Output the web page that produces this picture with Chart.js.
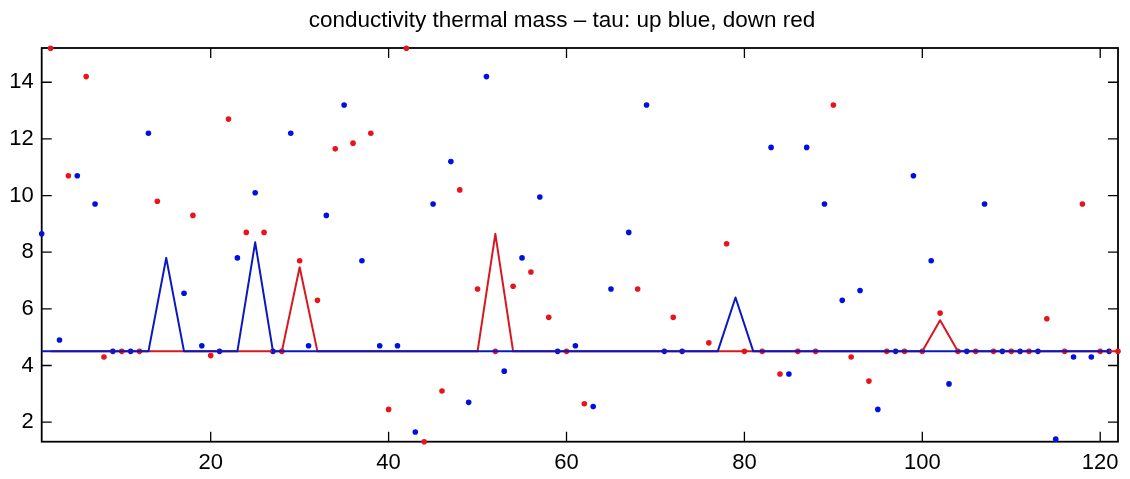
<!DOCTYPE html>
<html>
<head>
<meta charset="utf-8">
<script src="https://cdn.jsdelivr.net/npm/chart.js@4.4.1/dist/chart.umd.min.js"></script>
<style>
  html, body { margin: 0; padding: 0; background: #fff; }
  #wrap { width: 1130px; height: 479px; }
</style>
</head>
<body>
<div id="wrap"><canvas id="tauChart"></canvas></div>
<script>
// cast numbers: up casts are odd, down casts are even
const upCast = [1, 3, 5, 7, 9, 11, 13, 15, 17, 19, 21, 23, 25, 27, 29, 31, 33, 35, 37, 39,
    41, 43, 45, 47, 49, 51, 53, 55, 57, 59, 61, 63, 65, 67, 69, 71, 73, 75, 77, 79,
    81, 83, 85, 87, 89, 91, 93, 95, 97, 99, 101, 103, 105, 107, 109, 111, 113, 115, 117, 119, 121];
const downCast = [2, 4, 6, 8, 10, 12, 14, 16, 18, 20, 22, 24, 26, 28, 30, 32, 34, 36, 38, 40,
    42, 44, 46, 48, 50, 52, 54, 56, 58, 60, 62, 64, 66, 68, 70, 72, 74, 76, 78, 80,
    82, 84, 86, 88, 90, 92, 94, 96, 98, 100, 102, 104, 106, 108, 110, 112, 114, 116, 118, 120, 122];

// tau per cast (null = no estimate)
const tauUp = [8.65, 4.9, 10.7, 9.7, 4.5, 4.5, 12.2, null, 6.55, 4.7,
    4.5, 7.8, 10.1, 4.5, 12.2, 4.7, 9.3, 13.2, 7.7, 4.7,
    4.7, 1.65, 9.7, 11.2, 2.7, 14.2, 3.8, 7.8, 9.95, 4.5,
    4.7, 2.55, 6.7, 8.7, 13.2, 4.5, 4.5, null, null, null,
    null, 11.7, 3.7, 11.7, 9.7, 6.3, 6.65, 2.45, 4.5, 10.7,
    7.7, 3.35, 4.5, 9.7, 4.5, 4.5, 4.5, 1.4, 4.3, 4.3, 4.5];
const tauDown = [15.2, 10.7, 14.2, 4.3, 4.5, 4.5, 9.8, null, 9.3, 4.35,
    12.7, 8.7, 8.7, 4.5, 7.7, 6.3, 11.65, 11.85, 12.2, 2.45,
    15.2, 1.31, 3.1, 10.2, 6.7, 4.5, 6.8, 7.3, 5.7, 4.5,
    2.65, null, null, 6.7, null, 5.7, null, 4.8, 8.3, 4.5,
    4.5, 3.7, 4.5, 4.5, 13.2, 4.3, 3.45, 4.5, 4.5, 4.5,
    5.85, 4.5, 4.5, 4.5, 4.5, 4.5, 5.65, 4.5, 9.7, 4.5, 4.5];

// chosen tau (lines)
const tauUpLine = [4.5, 4.5, 4.5, 4.5, 4.5, 4.5, 4.5, 7.8, 4.5, 4.5,
    4.5, 4.5, 8.35, 4.5, 4.5, 4.5, 4.5, 4.5, 4.5, 4.5,
    4.5, 4.5, 4.5, 4.5, 4.5, 4.5, 4.5, 4.5, 4.5, 4.5,
    4.5, 4.5, 4.5, 4.5, 4.5, 4.5, 4.5, 4.5, 4.5, 6.4,
    4.5, 4.5, 4.5, 4.5, 4.5, 4.5, 4.5, 4.5, 4.5, 4.5,
    4.5, 4.5, 4.5, 4.5, 4.5, 4.5, 4.5, 4.5, 4.5, 4.5, 4.5];
const tauDownLine = [4.5, 4.5, 4.5, 4.5, 4.5, 4.5, 4.5, 4.5, 4.5, 4.5,
    4.5, 4.5, 4.5, 4.5, 7.47, 4.5, 4.5, 4.5, 4.5, 4.5,
    4.5, 4.5, 4.5, 4.5, 4.5, 8.65, 4.5, 4.5, 4.5, 4.5,
    4.5, 4.5, 4.5, 4.5, 4.5, 4.5, 4.5, 4.5, 4.5, 4.5,
    4.5, 4.5, 4.5, 4.5, 4.5, 4.5, 4.5, 4.5, 4.5, 4.5,
    5.6, 4.5, 4.5, 4.5, 4.5, 4.5, 4.5, 4.5, 4.5, 4.5, 4.5];

const xTicks = [20, 40, 60, 80, 100, 120];
const yTicks = [2, 4, 6, 8, 10, 12, 14];

const BLUE = '#0010e0';
const RED = '#e8141c';
const FONT = "'Liberation Sans', Arial, Helvetica, sans-serif";

function pts(xs, ys) {
    return xs.map((c, i) => ({ x: c, y: ys[i] })).filter(p => p.y !== null);
}

// MATLAB style box with inward ticks on all sides
const boxPlugin = {
    id: 'boxTicks',
    beforeDatasetsDraw: (chart) => {
        const { ctx, chartArea: a } = chart;
        const x = chart.scales.x, y = chart.scales.y;
        const len = 10;
        ctx.save();
        ctx.strokeStyle = '#000';
        ctx.lineWidth = 1.8;
        ctx.strokeRect(a.left, a.top, a.right - a.left, a.bottom - a.top);
        ctx.lineWidth = 1.3;
        ctx.beginPath();
        xTicks.forEach(v => {
            const px = x.getPixelForValue(v);
            ctx.moveTo(px, a.bottom); ctx.lineTo(px, a.bottom - len);
            ctx.moveTo(px, a.top); ctx.lineTo(px, a.top + len);
        });
        yTicks.forEach(v => {
            const py = y.getPixelForValue(v);
            ctx.moveTo(a.left, py); ctx.lineTo(a.left + len, py);
            ctx.moveTo(a.right, py); ctx.lineTo(a.right - len, py);
        });
        ctx.stroke();
        ctx.restore();
    }
};

const config = {
    type: 'scatter',
    data: {
        datasets: [
            {
                label: 'up line', data: pts(upCast, tauUpLine), showLine: true,
                borderColor: '#0a18c0', borderWidth: 2, borderJoinStyle: 'round',
                pointRadius: 0, order: 0, clip: false
            },
            {
                label: 'down line', data: pts(downCast, tauDownLine), showLine: true,
                borderColor: '#d81820', borderWidth: 2, borderJoinStyle: 'round',
                pointRadius: 0, order: 1, clip: false
            },
            {
                label: 'down', data: pts(downCast, tauDown), showLine: false,
                backgroundColor: RED, borderWidth: 0, pointRadius: 2.8, order: 2, clip: false
            },
            {
                label: 'up', data: pts(upCast, tauUp), showLine: false,
                backgroundColor: BLUE, borderWidth: 0, pointRadius: 2.8, order: 3, clip: false
            }
        ]
    },
    options: {
        responsive: true,
        maintainAspectRatio: false,
        animation: false,
        layout: { padding: { left: 6, right: 12, top: 0, bottom: 0 } },
        plugins: {
            legend: { display: false },
            tooltip: { enabled: false },
            title: {
                display: true,
                text: 'conductivity thermal mass \u2013 tau: up blue, down red',
                color: '#000',
                font: { family: FONT, size: 22.5, weight: 'normal' },
                padding: { top: 7, bottom: 14 }
            }
        },
        scales: {
            x: {
                type: 'linear', min: 1, max: 122,
                afterBuildTicks: (s) => { s.ticks = xTicks.map(v => ({ value: v })); },
                afterFit: (s) => { s.height = 37.3; },
                grid: { display: false, drawTicks: false },
                border: { display: false },
                ticks: { color: '#000', font: { family: FONT, size: 22 }, padding: 8, maxRotation: 0 }
            },
            y: {
                type: 'linear', min: 1.31, max: 15.21,
                afterBuildTicks: (s) => { s.ticks = yTicks.map(v => ({ value: v })); },
                afterFit: (s) => { s.width = 35.7; },
                grid: { display: false, drawTicks: false },
                border: { display: false },
                ticks: { color: '#000', font: { family: FONT, size: 22 }, padding: 8 }
            }
        }
    },
    plugins: [boxPlugin]
};

const ctx = document.getElementById('tauChart').getContext('2d');
const tauChart = new Chart(ctx, config);
</script>
</body>
</html>
